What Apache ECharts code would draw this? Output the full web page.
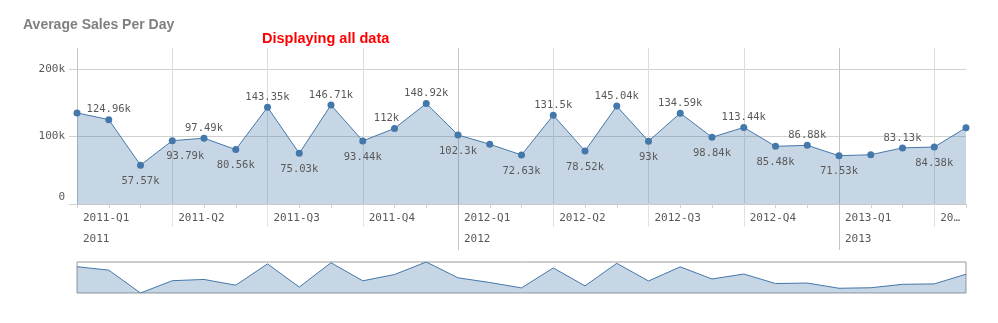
<!DOCTYPE html>
<html><head><meta charset="utf-8">
<script src="https://cdn.jsdelivr.net/npm/echarts@6/dist/echarts.min.js"></script>
<style>html,body{margin:0;padding:0;background:#fff}#c{width:998px;height:323px}</style>
</head><body><div id="c"></div>
<script>
// ---- data ----
const months = ['2011-01','2011-02','2011-03','2011-04','2011-05','2011-06','2011-07','2011-08','2011-09','2011-10','2011-11','2011-12',
  '2012-01','2012-02','2012-03','2012-04','2012-05','2012-06','2012-07','2012-08','2012-09','2012-10','2012-11','2012-12',
  '2013-01','2013-02','2013-03','2013-04','2013-05'];
const quarterLabels = ['2011-Q1','2011-Q2','2011-Q3','2011-Q4','2012-Q1','2012-Q2','2012-Q3','2012-Q4','2013-Q1','2013-Q2'];
const yearLabels = ['2011','2012','2013'];
const sales = [135000,124960,57570,93790,97490,80560,143350,75030,146710,93440,112000,148920,
  102300,88500,72630,131500,78520,145040,93000,134590,98840,113440,85480,86880,
  71530,73000,83130,84380,113000];
const yTickValues = [0,100000,200000];
// label placement (style only)
const labelSide = [null,'top','bottom','bottom','top','bottom','top','bottom','top','bottom','top','top',
  'bottom',null,'bottom','top','bottom','top','bottom','top','bottom','top','bottom','top',
  'bottom',null,'top','bottom',null];
const labelShiftX = {3: 13, 10: -8};

const MONO = 'DejaVu Sans Mono';
const TXT = '#595959';
const BLUE = '#4477aa';
const fmtK = v => v === 0 ? '0' : (+(v/1000).toFixed(2)) + 'k';

const chart = echarts.init(document.getElementById('c'));
chart.setOption({
  animation: false,
  title: [
    {text: 'Average Sales Per Day', left: 23, top: 18, padding: 0,
     textStyle: {fontFamily: 'Liberation Sans', fontWeight: 'bold', fontSize: 14, color: '#7f7f7f'}},
    {text: 'Displaying all data', left: 262, top: 31, padding: 0,
     textStyle: {fontFamily: 'Liberation Sans', fontWeight: 'bold', fontSize: 14.5, color: '#ff0000'}}
  ],
  grid: [
    {left: 77, right: 32, top: 69, height: 135},
    {left: 77, right: 32, top: 48, height: 156},
    {left: 77, right: 32, top: 262, height: 31, show: true, borderColor: '#999', borderWidth: 1, backgroundColor: 'transparent'}
  ],
  xAxis: [
    {type: 'category', gridIndex: 0, position: 'bottom', data: months, boundaryGap: false,
     axisLine: {show: false}, axisLabel: {show: false}, splitLine: {show: false},
     axisTick: {show: true, interval: 0, length: 4, lineStyle: {color: '#d0d0d0'}}},
    {type: 'category', gridIndex: 1, position: 'bottom', data: months, boundaryGap: false,
     axisLine: {show: true, lineStyle: {color: '#c8c8c8'}},
     axisTick: {show: true, interval: i => i % 3 === 0 && i > 0, length: 23, lineStyle: {color: '#e2e2e2'}},
     splitLine: {show: true, interval: i => i % 3 === 0, lineStyle: {color: '#dcdcdc'}},
     axisLabel: {show: true, interval: i => i % 3 === 0, align: 'left', padding: [0,0,0,6], margin: 9,
       fontFamily: MONO, fontSize: 11, color: TXT,
       formatter: (v, i) => {
         const t = quarterLabels[Math.floor(i / 3)] || '';
         return (months.length - 1 - i) < 3 ? t.slice(0, 2) + '…' : t;
       }}},
    {type: 'category', gridIndex: 1, position: 'bottom', offset: 0, data: months, boundaryGap: false,
     axisLine: {show: false},
     axisTick: {show: true, interval: i => i % 12 === 0 && i > 0, length: 46, lineStyle: {color: '#c4c4c4'}},
     splitLine: {show: true, interval: i => i % 12 === 0, lineStyle: {color: '#c4c4c4'}},
     axisLabel: {show: true, interval: i => i % 12 === 0, align: 'left', padding: [0,0,0,6], margin: 30,
       fontFamily: MONO, fontSize: 11, color: TXT,
       formatter: (v, i) => yearLabels[Math.floor(i / 12)] || ''}},
    {type: 'category', gridIndex: 2, data: months, boundaryGap: false, show: false}
  ],
  yAxis: [
    {type: 'value', gridIndex: 0, min: yTickValues[0], max: yTickValues[yTickValues.length-1], interval: 100000,
     axisLine: {show: false},
     axisTick: {show: true, length: 8, lineStyle: {color: '#d0d0d0'}},
     splitLine: {show: true, lineStyle: {color: '#d0d0d0'}},
     axisLabel: {margin: 12, fontFamily: MONO, fontSize: 11, color: TXT,
       formatter: v => v === 0 ? '{z|0}' : fmtK(v),
       rich: {z: {fontFamily: MONO, fontSize: 11, color: TXT, padding: [0,0,14,0]}}}},
    {type: 'value', gridIndex: 1, min: 0, max: 1, show: false},
    {type: 'value', gridIndex: 2, min: 'dataMin', max: 'dataMax', show: false}
  ],
  series: [
    {type: 'line', xAxisIndex: 0, yAxisIndex: 0, z: 3,
     symbol: 'circle', symbolSize: 7, showAllSymbol: true,
     itemStyle: {color: BLUE},
     lineStyle: {color: BLUE, width: 1},
     areaStyle: {color: BLUE, opacity: 0.3},
     label: {fontFamily: MONO, fontSize: 10.5, color: TXT, formatter: p => fmtK(p.value)},
     data: sales.map((v, i) => ({
       value: v,
       label: labelSide[i] ? {show: true, position: labelSide[i],
         distance: labelSide[i] === 'top' ? 1 : 7,
         offset: [labelShiftX[i] || 0, 0]} : {show: false}
     }))},
    {type: 'line', xAxisIndex: 3, yAxisIndex: 2, silent: true,
     symbol: 'none', lineStyle: {color: BLUE, width: 1},
     areaStyle: {color: BLUE, opacity: 0.3, origin: 'start'},
     data: sales}
  ]
});
</script></body></html>
